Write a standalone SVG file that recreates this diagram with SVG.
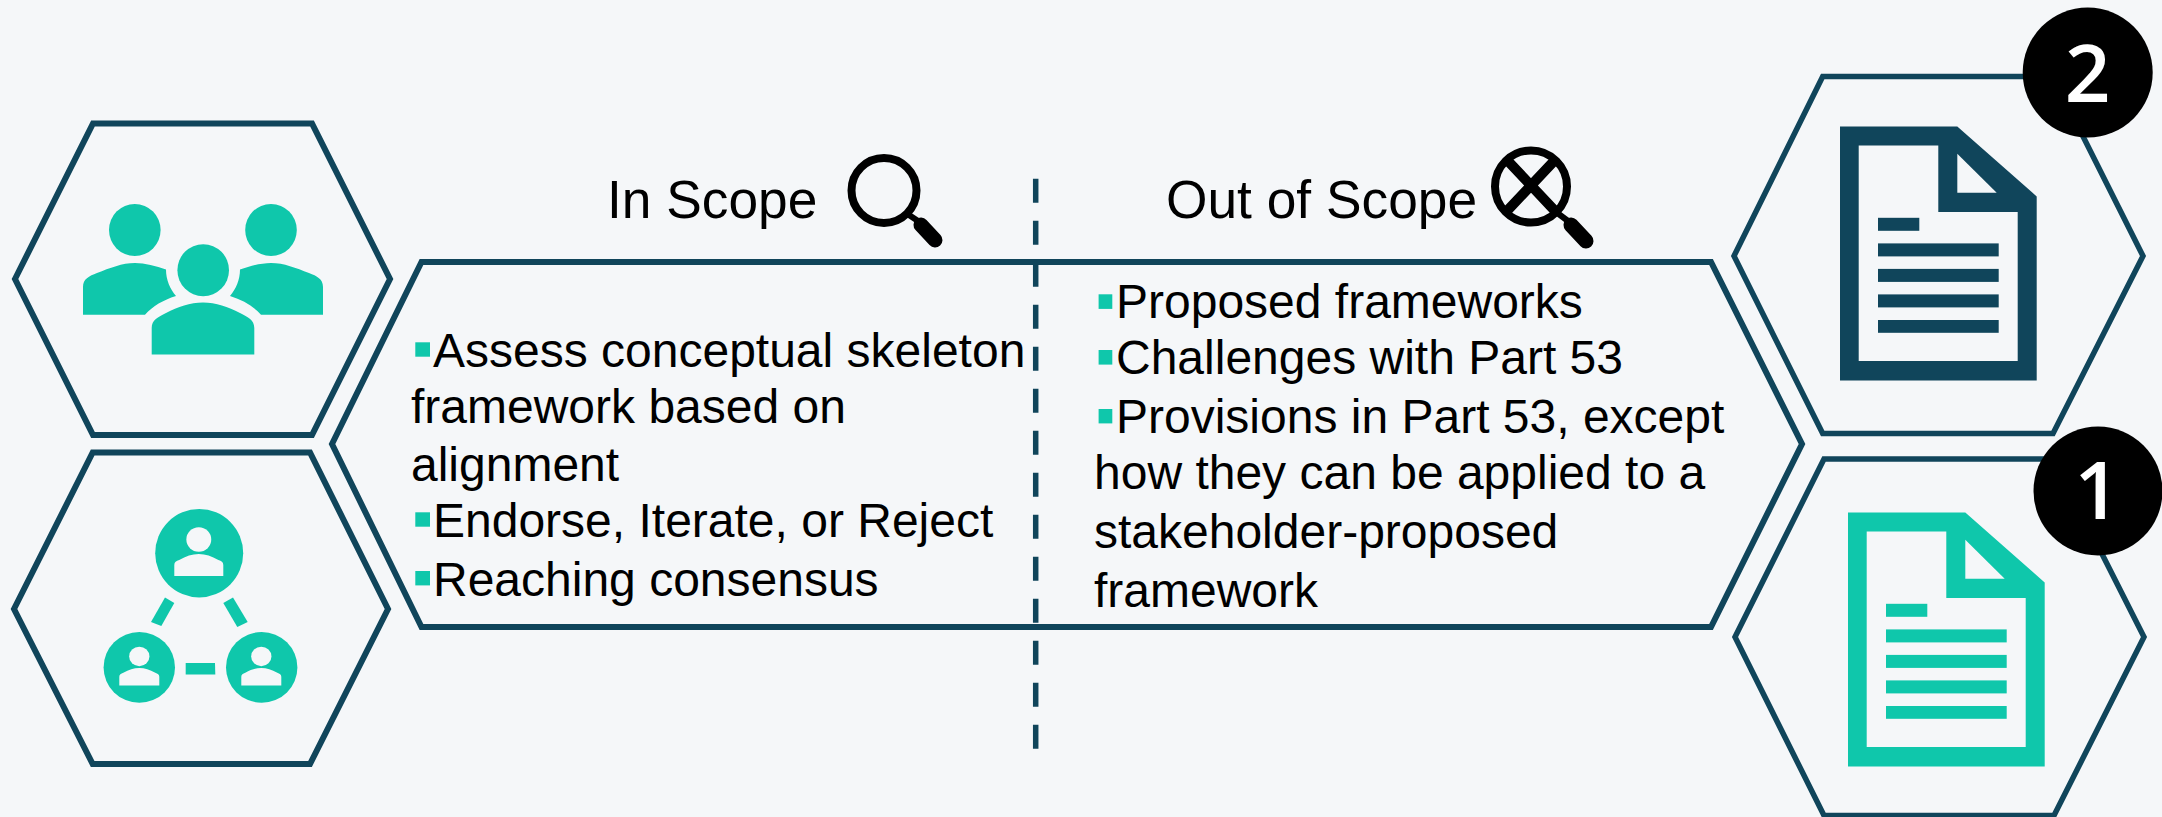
<svg xmlns="http://www.w3.org/2000/svg" width="2162" height="817" viewBox="0 0 2162 817">
<style>
.hex{fill:none;stroke:#10455B;stroke-width:6;stroke-linejoin:miter}
.t{font-family:"Liberation Sans",Arial,sans-serif;font-size:48px;fill:#000}
.h{font-family:"Liberation Sans",Arial,sans-serif;font-size:53.3px;fill:#000}
.b{fill:#0FC7AB}
.teal{fill:#0FC7AB}
.navy{fill:#10455B}
.bg{fill:#F5F7F9}
.num{font-family:"Open Sans",sans-serif;font-size:80px;font-weight:600;fill:#fff}
.ring{fill:none;stroke:#000;stroke-width:8}
.handle{stroke:#000;stroke-width:15;stroke-linecap:round;fill:none}
</style>
<defs>
<g id="doc">
<path fill-rule="evenodd" d="M1840,126.6H1957.3L2036.7,196.5V380.4H1840ZM1858.7,145.4V361H2017.7V212H1938.3V145.4Z"/>
<path class="bg" d="M1957.3,153.7V192.8H1996.7Z"/>
<rect x="1878" y="217.8" width="41.3" height="13"/>
<rect x="1878" y="243.4" width="120.7" height="13"/>
<rect x="1878" y="268.9" width="120.7" height="13"/>
<rect x="1878" y="294.4" width="120.7" height="13"/>
<rect x="1878" y="320" width="120.7" height="12.8"/>
</g>
<g id="person">
<ellipse cx="0" cy="-17.5" rx="12.7" ry="12.2"/>
<path d="M-25,19V8C-25,5-23,4-20,3C-13,-1-7,-3,0,-3C7,-3,13,-1,20,3C23,4,25,5,25,8V19Z"/>
</g>
</defs>
<rect width="2162" height="817" class="bg"/>

<g id="connectors">
<line x1="1035.7" y1="178.7" x2="1035.7" y2="749" stroke="#10455B" stroke-width="5.5" stroke-dasharray="24 18"/>
</g>

<g id="hex-people">
<polygon class="hex" points="15,279 93,123.4 312,123.4 390,279 312,435 93,435"/>
<g class="teal">
<ellipse cx="134.8" cy="230" rx="25.8" ry="26"/>
<ellipse cx="271" cy="230" rx="25.8" ry="26"/>
<ellipse cx="203.2" cy="270.2" rx="25.8" ry="26"/>
<path d="M151.7,354.5V328C151.7,320 158,317 166,313C178,307 190,302.5 203,302.5C216,302.5 228,307 240,313C248,317 254.3,320 254.3,328V354.5Z"/>
<path d="M83,314.7V287C83,279 89,276 97,273C110,268 122,263 135,263C145,263 156,266 166,269.6C166,280 170,289 176,296C163,300 153,306 145,314.7Z"/>
<path d="M323,314.7V287C323,279 317,276 309,273C296,268 284,263 271,263C261,263 250,266 240,269.6C240,280 236,289 230,296C243,300 253,306 261,314.7Z"/>
</g>
</g>

<g id="hex-network">
<polygon class="hex" points="14,609 92.7,452.5 310,452.5 388,609 310,764 92.7,764"/>
<g class="teal">
<ellipse cx="199.2" cy="553.2" rx="44" ry="44.2"/>
<ellipse cx="139.3" cy="667.4" rx="35.7" ry="35.4"/>
<ellipse cx="261.7" cy="667.4" rx="35.7" ry="35.4"/>
<path d="M165,597.4L174.3,603L161.3,626L151,622Z"/>
<path d="M223.3,603L233,597.4L247.7,622L237.3,627Z"/>
<path d="M185.7,663H215L215.3,674.6H185.7Z"/>
</g>
<g class="bg">
<use href="#person" transform="translate(198.8,557) scale(0.98,1)"/>
<use href="#person" transform="translate(139.3,670.4) scale(0.8,0.8)"/>
<use href="#person" transform="translate(261.3,670.4) scale(0.8,0.8)"/>
</g>
</g>

<g id="hex-scope">
<polygon class="hex" points="332,444 421.5,262 1711,262 1802,444 1711,627 421.5,627"/>
<rect class="b" x="415.3" y="342.3" width="14.7" height="14.4"/>
<rect class="b" x="415.3" y="512.3" width="14.7" height="14.4"/>
<rect class="b" x="415.3" y="571" width="14.7" height="14.4"/>
<rect class="b" x="1098.6" y="294.3" width="13.7" height="14.6"/>
<rect class="b" x="1098.6" y="350" width="13.7" height="14.6"/>
<rect class="b" x="1098.6" y="409" width="13.7" height="14.4"/>
<text class="t" x="433" y="366.7">Assess conceptual skeleton</text>
<text class="t" x="411" y="422.7">framework based on</text>
<text class="t" x="411" y="480.7">alignment</text>
<text class="t" x="433" y="536.7">Endorse, Iterate, or Reject</text>
<text class="t" x="433" y="595.7">Reaching consensus</text>
<text class="t" x="1116" y="318.3">Proposed frameworks</text>
<text class="t" x="1116" y="374.3">Challenges with Part 53</text>
<text class="t" x="1116" y="433.3">Provisions in Part 53, except</text>
<text class="t" x="1094" y="489.3">how they can be applied to a</text>
<text class="t" x="1094" y="548.3">stakeholder-proposed</text>
<text class="t" x="1094" y="606.7">framework</text>
</g>

<g id="in-scope">
<text class="h" x="607" y="217.7">In Scope</text>
<circle class="ring" cx="884" cy="190.5" r="32.5"/>
<path d="M906,213L918,221" stroke="#000" stroke-width="6" fill="none"/>
<path class="handle" d="M921,225L935,240"/>
</g>

<g id="out-of-scope">
<text class="h" x="1166" y="217.7">Out of Scope</text>
<circle class="ring" cx="1531" cy="186.5" r="36"/>
<path d="M1507,160L1556,212M1555,160L1506,212" stroke="#000" stroke-width="10" fill="none"/>
<path d="M1556,212L1568,221" stroke="#000" stroke-width="6" fill="none"/>
<path class="handle" d="M1571,225L1586,241"/>
</g>

<g id="doc-2">
<polygon class="hex" style="stroke-width:5.5" points="1734,256 1822.7,76.6 2053,76.6 2143,256 2053,433.5 1822.7,433.5"/>
<use href="#doc" class="navy"/>
<circle cx="2087.7" cy="72.5" r="65"/>
<text class="num" x="2087.5" y="101.6" text-anchor="middle">2</text>
</g>

<g id="doc-1">
<polygon class="hex" style="stroke-width:5.5" points="1735,637 1824,459 2054,459 2144,637 2054,815.5 1824,815.5"/>
<use href="#doc" class="teal" transform="translate(8,386)"/>
<circle cx="2098" cy="491" r="64.5"/>
<text class="num" x="2097" y="518.5" text-anchor="middle">1</text>
</g>
</svg>
